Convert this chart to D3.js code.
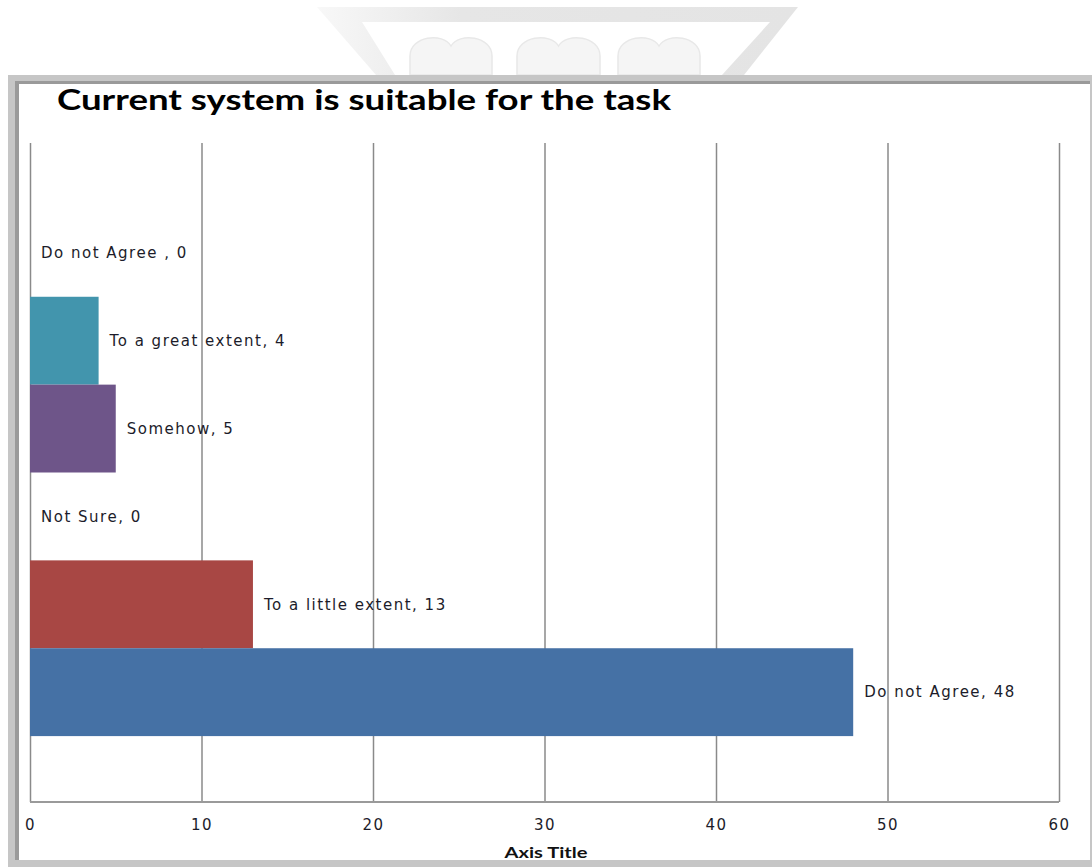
<!DOCTYPE html>
<html>
<head>
<meta charset="utf-8">
<script src="https://cdn.jsdelivr.net/npm/d3@7"></script>
<style>
  html, body { margin: 0; padding: 0; background: #ffffff; }
  svg { display: block; }
</style>
</head>
<body>
<svg id="chart" width="1092" height="867"></svg>
<script>
// Survey answers, listed from the top band down
const categories = ["Do not Agree ", "To a great extent", "Somehow", "Not Sure", "To a little extent", "Do not Agree"];
const values = [0, 4, 5, 0, 13, 48];
const barColors = ["#e08a3c", "#4295ad", "#6e5589", "#8aa84a", "#a84744", "#4571a5"];
const xTicks = [0, 10, 20, 30, 40, 50, 60];
const chartTitle = "Current system is suitable for the task";
const xAxisTitle = "Axis Title";

const svg = d3.select("#chart");

// ---- faint logo behind the frame ----
const defs = svg.append("defs");
const grad = defs.append("linearGradient").attr("id", "logoGrad")
  .attr("x1", "0").attr("x2", "1").attr("y1", "0").attr("y2", "0");
grad.append("stop").attr("offset", "0").attr("stop-color", "#f8f8f8");
grad.append("stop").attr("offset", "0.3").attr("stop-color", "#e6e6e6");
grad.append("stop").attr("offset", "1").attr("stop-color", "#e4e4e4");

const logo = svg.append("g");
logo.append("path")
  .attr("d", "M317,7 L798,7 L744,75 L722,75 L770,22 L362,22 L395,75 L376,75 Z")
  .attr("fill", "url(#logoGrad)");
const bumpXs = [[410, 492], [517, 600], [618, 700]];
bumpXs.forEach(([a, b]) => {
  const m = (a + b) / 2;
  logo.append("path")
    .attr("d", `M${a},75 L${a},56 C${a},36 ${m - 8},32 ${m},46 C${m + 8},32 ${b},36 ${b},56 L${b},75 Z`)
    .attr("fill", "#f5f5f5")
    .attr("stroke", "#e8e8e8")
    .attr("stroke-width", 1.5);
});

// ---- chart frame ----
svg.append("rect").attr("x", 8).attr("y", 75).attr("width", 1084).attr("height", 792).attr("fill", "#c6c6c6");
svg.append("rect").attr("x", 15).attr("y", 81).attr("width", 1075).attr("height", 779).attr("fill", "#9a9a9a");
svg.append("rect").attr("x", 19).attr("y", 84).attr("width", 1071).attr("height", 776).attr("fill", "#ffffff");

// ---- title ----
svg.append("text")
  .attr("x", 57).attr("y", 110)
  .attr("font-family", "Lato, 'Open Sans', sans-serif")
  .attr("font-weight", "bold")
  .attr("font-size", 29)
  .attr("textLength", 614)
  .attr("lengthAdjust", "spacingAndGlyphs")
  .attr("fill", "#000")
  .text(chartTitle);

// ---- plot area ----
const plot = { left: 30, right: 1059, top: 143, bottom: 802 };

const x = d3.scaleLinear().domain([0, 60]).range([plot.left, plot.right]);
const y = d3.scaleBand().domain(categories.map((c, i) => i))
  .range([plot.top, plot.bottom]).paddingInner(0).paddingOuter(0.75);

// vertical gridlines
const gridAxis = d3.axisBottom(x).tickValues(xTicks)
  .tickSize(-(plot.bottom - plot.top)).tickFormat("");
const grid = svg.append("g").attr("transform", `translate(0,${plot.bottom})`).call(gridAxis);
grid.select(".domain").remove();
grid.selectAll(".tick line").attr("stroke", "#8a8a8a").attr("stroke-width", 1.5);

// bottom axis line
svg.append("line")
  .attr("x1", plot.left).attr("x2", plot.right)
  .attr("y1", plot.bottom).attr("y2", plot.bottom)
  .attr("stroke", "#9a9a9a").attr("stroke-width", 2);

// bars
svg.append("g").selectAll("rect")
  .data(values)
  .join("rect")
  .attr("x", x(0))
  .attr("y", (d, i) => y(i))
  .attr("width", d => x(d) - x(0))
  .attr("height", y.bandwidth())
  .attr("fill", (d, i) => barColors[i]);

// data labels
svg.append("g").selectAll("text")
  .data(values)
  .join("text")
  .attr("x", d => x(d) + 11)
  .attr("y", (d, i) => y(i) + y.bandwidth() / 2)
  .attr("dy", "0.35em")
  .attr("font-family", "'DejaVu Sans', Verdana, sans-serif")
  .attr("font-size", 15)
  .attr("letter-spacing", 1.5)
  .attr("fill", "#1c1c2a")
  .text((d, i) => `${categories[i]}, ${d}`);

// tick labels
const tickAxis = d3.axisBottom(x).tickValues(xTicks).tickSize(0).tickPadding(0);
const ticks = svg.append("g").attr("transform", `translate(0,${plot.bottom + 17})`).call(tickAxis);
ticks.select(".domain").remove();
ticks.selectAll("text")
  .attr("font-family", "'DejaVu Sans', Verdana, sans-serif")
  .attr("font-size", 15)
  .attr("letter-spacing", 1.5)
  .attr("fill", "#1c1c2a");

// axis title
svg.append("text")
  .attr("x", 546).attr("y", 858)
  .attr("text-anchor", "middle")
  .attr("font-family", "Lato, 'Open Sans', sans-serif")
  .attr("font-weight", "bold")
  .attr("font-size", 16)
  .attr("textLength", 83)
  .attr("lengthAdjust", "spacingAndGlyphs")
  .attr("fill", "#111")
  .text(xAxisTitle);
</script>
</body>
</html>
